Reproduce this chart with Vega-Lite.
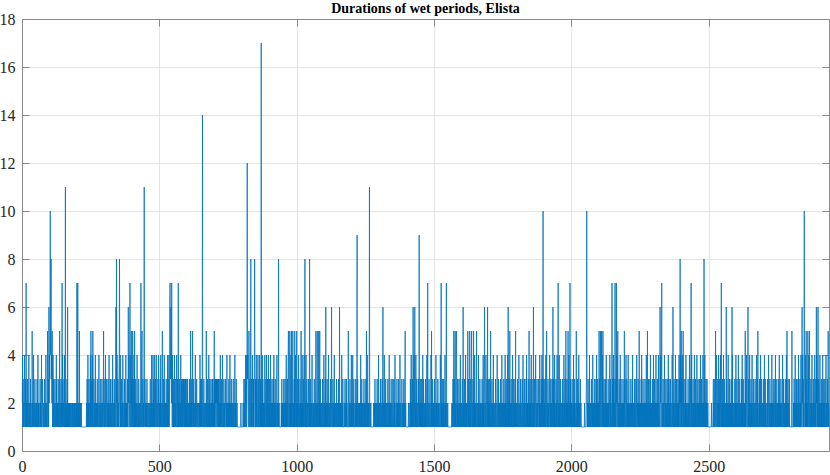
{
"$schema": "https://vega.github.io/schema/vega-lite/v6.json",
"width": 807,
"height": 432,
"autosize": "none",
"padding": {"left": 22, "top": 19, "right": 1, "bottom": 24},
"background": "white",
"title": {"text": "Durations of wet periods, Elista", "font": "Liberation Serif", "fontSize": 14, "fontWeight": "bold", "color": "#000000", "offset": 6, "anchor": "middle", "dy": 11},
"data": {"values": [
2,4,1,3,1,1,2,1,4,2, 1,1,3,1,7,1,2,1,1,3, 1,2,1,1,4,1,1,2,1,1, 3,1,2,1,1,1,5,1,2,1, 1,4,1,2,1,1,3,1,1,2,
1,1,2,1,3,1,1,4,1,2, 1,2,1,1,1,3,1,2,1,1, 4,1,1,2,3,1,1,1,2,1, 1,3,1,1,2,1,4,1,1,2, 1,1,5,2,1,3,1,6,2,4,
3,5,10,4,6,8,3,4,2,5, 1,2,4,1,3,1,2,1,1,3, 1,1,2,1,4,1,3,1,2,1, 1,2,1,3,1,1,5,1,2,1, 1,3,1,2,1,7,1,4,1,2,
2,1,3,1,4,2,1,11,1,2, 1,2,1,3,1,6,1,2,1,2, 1,1,2,1,2,1,2,2,1,1, 2,1,1,2,1,2,1,1,2,1, 2,1,2,1,1,2,1,2,1,7,
2,1,7,1,2,1,2,1,5,1, 2,1,2,1,1,2,1,1,1,1, 1,1,1,1,1,1,1,1,1,1, 1,1,1,1,2,1,3,1,2,4, 1,2,1,3,1,1,2,1,4,1,
5,1,2,3,1,4,1,5,2,1, 1,3,1,2,1,1,4,1,2,1, 2,1,1,3,1,2,1,1,2,4, 1,1,2,1,3,1,1,2,1,1, 3,1,2,1,1,2,5,1,3,1,
1,2,1,4,1,1,3,2,1,2, 1,1,3,1,2,1,4,1,1,2, 1,3,1,1,2,1,1,3,1,4, 2,1,1,2,1,3,1,1,2,1, 3,6,2,8,1,4,2,1,3,1,
2,1,3,4,8,2,1,4,1,2, 1,3,1,1,2,1,4,2,1,1, 2,1,3,1,1,2,1,4,1,2, 1,2,1,3,1,1,6,2,4,1, 1,3,7,2,1,4,2,5,1,3,
2,1,5,1,3,2,1,4,1,5, 1,2,1,3,1,1,2,1,4,1, 1,2,1,1,3,1,2,1,1,2, 1,3,7,2,1,4,5,1,2,3, 1,2,1,4,11,2,1,3,1,2,
1,1,2,1,3,1,1,2,1,1, 2,1,1,1,2,1,3,1,1,2, 1,4,1,2,1,1,4,1,3,1, 2,1,4,1,1,3,1,2,4,1, 1,2,1,1,3,1,4,2,1,1,
2,1,3,1,4,1,2,1,1,3, 5,1,2,1,1,3,1,4,1,2, 1,1,2,1,3,1,1,2,1,4, 1,3,1,2,4,1,2,6,7,4, 3,6,4,2,7,3,1,4,2,1,
3,1,2,1,4,1,1,3,1,2, 1,1,4,2,1,3,1,1,7,1, 2,1,3,1,1,2,1,4,1,1, 3,1,3,1,2,3,1,3,2,1, 3,1,2,3,1,3,1,2,1,3,
2,1,3,1,2,1,1,2,1,3, 1,2,1,5,1,2,1,3,1,2, 5,1,2,1,3,1,1,2,1,1, 4,1,2,1,1,3,1,1,2,1, 1,1,2,1,1,2,1,4,1,3,
1,2,1,3,1,2,14,1,2,1, 1,3,1,1,2,1,1,2,1,1, 5,1,2,1,3,1,1,2,1,4, 1,1,3,1,2,1,1,3,1,2, 1,2,3,1,3,1,2,1,3,5,
1,3,1,3,2,3,1,3,2,3, 1,3,2,1,3,1,2,3,1,2, 1,4,1,2,1,3,1,1,2,4, 1,2,1,1,3,1,2,1,1,2, 3,1,1,2,1,4,1,2,1,1,
2,1,3,1,2,1,4,1,2,1, 1,3,1,2,1,1,2,1,3,1, 1,2,1,1,4,1,2,1,1,3, 1,1,2,1,1,1,1,1,1,1, 1,1,1,1,1,1,2,1,1,1,
1,1,1,1,2,1,1,3,1,2, 1,3,1,4,2,3,1,4,3,12, 3,4,2,1,3,5,4,2,1,3, 1,4,8,2,1,3,1,2,4,1, 2,1,3,1,2,4,8,2,1,3,
1,2,4,1,3,1,1,2,4,1, 1,3,1,2,4,1,2,1,3,1, 17,1,2,1,4,1,3,1,2,1, 1,2,1,4,1,1,2,3,1,4, 1,2,1,3,1,1,4,1,2,1,
3,1,2,1,4,1,1,2,1,3, 1,2,1,1,3,1,4,1,2,1, 1,3,1,2,1,1,2,4,1,2, 1,2,1,8,1,2,1,1,1,1, 1,1,1,2,1,3,1,2,1,1,
2,1,3,1,1,2,1,3,1,2, 1,4,1,2,1,3,1,2,4,5, 1,2,1,3,5,1,2,1,4,1, 5,1,2,1,3,5,1,2,1,1, 3,1,5,1,2,4,1,2,1,5,
1,2,1,3,1,1,4,1,2,1, 1,3,1,2,1,5,1,2,1,4, 1,2,1,3,1,2,4,1,2,8, 1,2,1,4,1,1,3,1,2,1, 1,2,3,1,2,1,8,1,2,1,
3,1,1,2,1,4,1,1,2,1, 1,2,1,3,1,1,2,1,3,5, 1,2,1,3,5,1,2,1,1,5, 1,2,1,5,1,3,1,2,1,1, 2,1,1,3,1,2,1,1,4,1,
1,2,1,3,1,6,1,2,1,1, 3,1,2,1,1,4,1,2,1,1, 2,1,3,1,1,2,6,1,2,1, 1,3,1,1,2,1,4,1,2,1, 1,2,1,1,3,1,2,1,1,2,
1,3,1,2,1,6,1,1,2,1, 2,1,1,4,1,2,1,3,1,1, 1,1,2,1,1,3,1,2,2,1, 3,1,2,1,1,1,2,5,1,1, 1,2,1,3,1,1,2,1,4,1,
2,1,1,4,1,2,1,3,1,1, 1,2,1,1,3,1,2,1,4,9, 1,3,1,1,2,1,1,2,1,2, 1,1,4,1,2,1,3,1,1,2, 1,2,1,1,3,1,2,1,1,2,
1,3,1,5,2,1,4,1,2,1, 1,2,1,3,11,1,2,1,1,2, 1,1,1,1,1,1,1,1,1,2, 1,1,2,1,3,1,2,1,1,1, 2,1,3,1,1,2,1,4,1,2,
1,1,2,1,3,1,1,2,1,1, 3,1,2,6,1,2,1,1,4,1, 2,1,1,3,1,2,1,1,2,1, 1,3,1,1,2,1,4,1,2,1, 1,2,1,3,1,1,2,1,1,3,
2,1,1,3,1,2,1,4,1,1, 1,2,1,1,3,1,2,1,2,1, 3,1,2,1,1,4,1,2,1,1, 1,1,3,1,2,1,1,2,1,3, 1,2,1,3,5,1,2,1,1,1,
1,1,1,1,1,1,2,1,1,1, 1,2,1,3,1,1,4,1,2,1, 3,1,2,6,1,3,4,1,2,6, 1,2,1,4,1,1,3,1,2,1, 1,2,3,1,2,9,1,2,1,3,
1,2,1,1,3,1,2,1,4,1, 1,3,1,2,1,1,2,1,3,1, 2,1,1,4,1,2,7,1,2,1, 1,3,1,1,2,1,1,2,4,1, 5,1,2,1,3,1,1,2,1,2,
1,3,1,2,1,1,4,1,2,1, 2,1,1,3,1,2,1,1,2,1, 1,2,4,1,1,7,1,2,1,3, 1,1,2,1,3,1,2,1,1,4, 1,2,1,3,7,1,2,1,1,2,
1,1,1,1,1,1,1,1,1,1, 1,1,1,1,2,1,2,1,3,1, 2,5,1,3,1,2,5,1,2,1, 4,5,1,2,1,3,1,2,1,1, 3,1,2,1,1,4,1,2,1,1,
2,1,3,1,1,6,1,2,1,1, 3,1,2,1,4,1,1,2,1,2, 1,2,5,1,3,1,2,1,1,5, 1,2,1,3,1,4,5,1,2,1, 1,3,1,5,1,2,1,4,1,2,
1,2,1,3,5,1,2,1,1,2, 1,4,1,2,1,1,3,1,2,1, 1,2,1,1,3,1,2,1,4,1, 2,1,3,6,1,2,1,1,4,1, 1,2,3,1,6,1,2,1,3,1,
2,1,3,1,1,5,1,2,1,1, 3,1,2,1,1,4,1,2,1,1, 2,1,1,3,1,2,1,1,2,4, 1,1,2,1,3,1,1,2,1,2, 1,3,1,1,2,1,4,1,2,1,
1,2,1,3,1,1,2,1,4,1, 2,1,3,1,1,2,1,4,1,6, 1,2,1,3,1,5,1,2,1,1, 3,1,2,1,1,4,1,2,1,3, 1,1,2,1,3,1,5,1,2,1,
2,1,1,3,1,2,1,1,4,1, 1,2,1,1,3,1,2,1,1,2, 3,1,2,4,1,1,2,1,3,1, 1,2,1,1,3,1,4,1,2,1, 2,1,3,1,1,5,1,2,1,3,
1,2,1,4,1,1,3,1,2,1, 1,6,1,2,1,3,1,1,2,4, 1,2,1,1,3,1,2,1,1,2, 3,1,2,1,4,1,1,2,1,3, 1,2,4,1,3,1,10,2,1,3,
1,2,1,3,1,1,4,1,2,5, 1,2,1,1,3,1,2,1,1,2, 4,1,2,1,3,1,1,2,1,3, 1,2,6,1,3,1,2,1,4,1, 2,1,1,3,1,2,1,4,1,2,
3,7,1,2,1,4,1,2,1,1, 3,1,2,1,1,2,1,3,1,2, 1,1,4,1,2,1,3,1,2,5, 1,2,1,3,1,2,1,5,1,2, 4,1,2,1,7,1,3,1,2,1,
2,1,3,1,1,2,1,4,1,2, 1,3,1,2,1,1,2,5,1,2, 1,1,3,1,2,1,4,1,2,1, 1,2,3,1,2,1,1,1,1,1, 1,1,1,1,1,1,1,2,1,1,
1,1,1,2,3,10,2,1,2,1, 3,1,2,1,1,4,1,2,1,1, 2,1,3,1,1,2,1,4,1,2, 1,1,2,1,3,1,2,1,1,3, 1,4,1,2,1,3,1,1,2,1,
5,1,3,2,1,5,2,1,3,5, 1,2,4,1,5,1,2,1,3,1, 1,2,1,3,1,1,4,1,2,1, 2,1,1,3,1,2,1,1,2,4, 1,3,1,2,1,1,2,7,1,3,
1,2,4,1,3,1,2,1,7,2, 1,3,1,7,2,4,1,3,5,1, 2,1,1,3,1,2,1,4,1,1, 3,1,2,1,1,2,1,3,1,2, 1,2,5,1,3,1,1,2,4,1,
1,3,1,2,1,1,4,1,2,1, 2,1,1,3,1,2,1,1,2,1, 3,1,4,1,2,1,1,2,1,3, 1,2,1,1,3,1,2,4,1,1, 2,1,3,1,2,1,5,1,2,1,
1,2,1,3,1,4,1,1,2,1, 3,1,2,1,1,2,1,3,1,2, 1,1,4,1,2,1,5,1,2,1, 3,1,1,2,1,3,1,4,1,2, 1,2,1,1,3,1,2,1,4,1,
2,1,3,1,1,2,1,4,1,2, 1,1,3,1,2,1,4,1,2,1, 1,3,6,2,4,1,2,3,7,1, 2,1,1,3,1,2,1,1,4,1, 1,2,1,3,1,1,2,1,3,1,
2,1,4,1,1,3,1,2,1,1, 3,1,2,1,1,2,4,1,2,6, 1,2,1,3,1,1,2,1,4,1, 2,1,3,1,1,2,1,3,1,2, 1,4,1,3,2,8,1,4,2,5,
1,3,1,2,4,1,5,2,1,3, 1,1,2,1,3,1,4,1,2,1, 1,2,1,1,3,1,2,1,1,4, 1,2,1,3,2,7,1,4,1,2, 1,1,3,1,2,1,1,4,1,2,
1,3,1,2,1,1,4,1,2,1, 3,1,2,1,1,3,1,2,1,4, 1,2,1,3,1,1,2,1,4,1, 2,1,8,3,1,4,1,2,1,3, 1,2,1,3,1,1,2,1,1,1,
1,1,1,1,1,1,1,1,1,2, 1,1,1,1,1,2,3,1,2,1, 1,3,1,2,5,1,2,4,1,1, 2,1,3,1,1,4,1,2,1,3, 1,2,4,1,3,7,1,2,1,3,
1,2,1,4,1,1,3,1,2,1, 1,2,1,6,1,3,1,2,1,1, 4,1,2,1,1,3,1,2,1,2, 1,3,1,2,6,1,4,1,2,1, 1,2,1,1,3,1,2,1,4,1,
2,1,3,1,1,2,1,4,1,2, 1,1,3,1,2,1,1,2,1,3, 1,4,1,2,1,3,1,1,2,1, 2,1,5,1,3,1,2,4,1,1, 1,2,6,1,3,1,2,1,4,1,
2,1,1,3,1,2,1,4,1,1, 2,1,3,1,1,2,1,1,3,1, 1,2,1,4,1,1,3,1,5,2, 1,1,2,1,3,1,2,1,4,1, 1,3,1,2,1,1,2,1,3,1,
2,1,4,1,1,3,1,2,1,1, 1,2,1,3,1,1,2,4,1,2, 1,1,3,1,2,1,1,2,1,4, 1,2,1,1,3,1,2,1,1,2, 3,1,4,1,2,1,1,3,1,2,
1,1,2,1,3,1,4,1,2,1, 2,1,3,1,1,2,1,1,4,1, 1,3,1,2,1,1,2,1,3,1, 2,1,4,1,5,1,2,1,3,1, 1,2,1,3,1,1,1,1,1,1,
1,1,5,1,1,1,1,1,2,1, 3,1,2,1,4,1,1,2,1,3, 1,2,1,1,3,1,4,1,2,1, 1,3,1,2,1,4,1,2,3,6, 2,4,1,3,1,2,4,10,3,1,
2,1,4,1,5,1,3,1,2,1, 5,1,2,4,1,3,5,1,2,1, 1,3,1,2,1,4,1,1,2,1, 3,1,2,1,1,4,1,2,1,3, 1,6,2,4,1,3,1,6,2,1,
3,1,2,1,4,1,1,2,1,3, 1,2,1,1,4,1,2,1,3,1, 2,1,3,1,1,2,4,1,2,1, 1,3,1,2,5,1,2,1
]},
"transform": [{"window": [{"op": "row_number", "as": "index"}]}],
"config": {"view": {"stroke": null}},
"layer": [
{"mark": {"type": "line", "color": "#0072BD", "strokeWidth": 0.8},
 "encoding": {
  "x": {"field": "index", "type": "quantitative", "scale": {"domain": [0, 2938], "nice": false, "zero": false},
   "axis": {"orient": "bottom", "title": null, "values": [0, 500, 1000, 1500, 2000, 2500], "format": "d", "grid": true, "gridColor": "#e3e3e3", "gridWidth": 1, "domainColor": "#8a8a8a", "domainWidth": 1, "tickColor": "#8a8a8a", "tickSize": -7, "labelPadding": 14, "labelFont": "Liberation Serif", "labelFontSize": 16, "labelColor": "#262626", "labelFlush": false, "labelOverlap": false}},
  "y": {"field": "data", "type": "quantitative", "scale": {"domain": [0, 18], "nice": false},
   "axis": {"orient": "left", "title": null, "values": [0, 2, 4, 6, 8, 10, 12, 14, 16, 18], "format": "d", "grid": true, "gridColor": "#e3e3e3", "gridWidth": 1, "domainColor": "#8a8a8a", "domainWidth": 1, "tickColor": "#8a8a8a", "tickSize": -7, "labelPadding": 14, "labelFont": "Liberation Serif", "labelFontSize": 16, "labelColor": "#262626", "labelFlush": false, "labelOverlap": false}}
 }},
{"mark": {"type": "line", "strokeOpacity": 0},
 "encoding": {
  "x": {"field": "index", "type": "quantitative",
   "axis": {"orient": "top", "title": null, "values": [0, 500, 1000, 1500, 2000, 2500], "labels": false, "grid": false, "domainColor": "#8a8a8a", "domainWidth": 1, "tickColor": "#8a8a8a", "tickSize": -7}},
  "y": {"field": "data", "type": "quantitative",
   "axis": {"orient": "right", "title": null, "values": [0, 2, 4, 6, 8, 10, 12, 14, 16, 18], "labels": false, "grid": false, "domainColor": "#8a8a8a", "domainWidth": 1, "tickColor": "#8a8a8a", "tickSize": -7}}
 }}
],
"resolve": {"axis": {"x": "independent", "y": "independent"}}
}
